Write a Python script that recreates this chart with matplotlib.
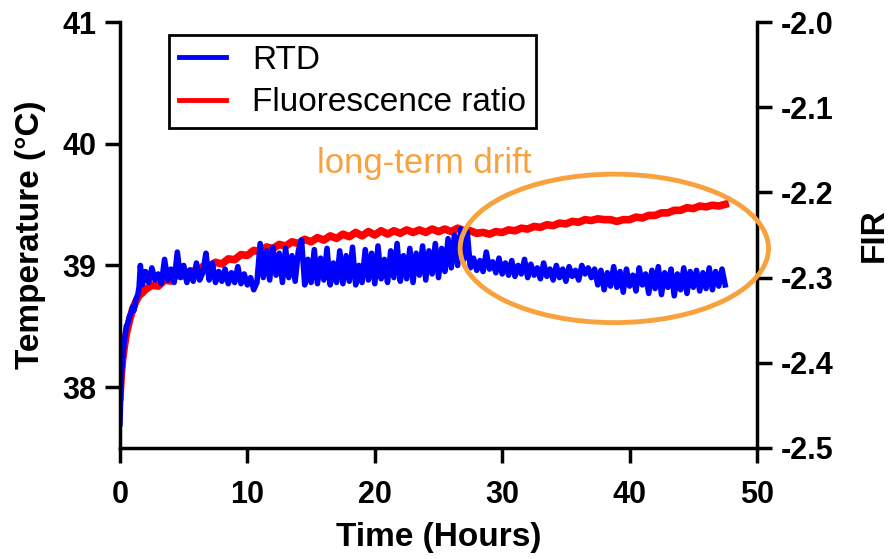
import matplotlib.pyplot as plt
from matplotlib.patches import Ellipse

plt.rcParams["font.family"] = ["Liberation Sans", "DejaVu Sans"]

# RTD temperature (deg C)
rtd_time = [
    0.0, 0.05, 0.1, 0.2, 0.3, 0.4, 0.5, 0.6, 0.75, 0.9,
    1.0, 1.1, 1.25, 1.4, 1.5, 1.6, 1.75,
    2.0, 2.25, 2.5, 2.75, 3.0, 3.25, 3.5, 3.75, 4.0, 4.25,
    4.5, 4.75, 5.0, 5.25, 5.5, 5.75, 6.0, 6.25, 6.5, 6.75,
    7.0, 7.25, 7.5, 7.75, 8.0, 8.25, 8.5, 8.75, 9.0, 9.25,
    9.5, 9.75, 10.0, 10.25, 10.5, 10.75, 11.0, 11.25, 11.5, 11.75,
    12.0, 12.25, 12.5, 12.75, 13.0, 13.25, 13.5, 13.75, 14.0, 14.25,
    14.5, 14.75, 15.0, 15.25, 15.5, 15.75, 16.0, 16.25, 16.5, 16.75,
    17.0, 17.25, 17.5, 17.75, 18.0, 18.25, 18.5, 18.75, 19.0, 19.25,
    19.5, 19.75, 20.0, 20.25, 20.5, 20.75, 21.0, 21.25, 21.5, 21.75,
    22.0, 22.25, 22.5, 22.75, 23.0, 23.25, 23.5, 23.75, 24.0, 24.25,
    24.5, 24.75, 25.0, 25.25, 25.5, 25.75, 26.0, 26.25, 26.5, 26.75,
    27.0, 27.25, 27.5, 27.75, 28.0, 28.25, 28.5, 28.75, 29.0, 29.25,
    29.5, 29.75, 30.0, 30.25, 30.5, 30.75, 31.0, 31.25, 31.5, 31.75,
    32.0, 32.25, 32.5, 32.75, 33.0, 33.25, 33.5, 33.75, 34.0, 34.25,
    34.5, 34.75, 35.0, 35.25, 35.5, 35.75, 36.0, 36.25, 36.5, 36.75,
    37.0, 37.25, 37.5, 37.75, 38.0, 38.25, 38.5, 38.75, 39.0, 39.25,
    39.5, 39.75, 40.0, 40.25, 40.5, 40.75, 41.0, 41.25, 41.5, 41.75,
    42.0, 42.25, 42.5, 42.75, 43.0, 43.25, 43.5, 43.75, 44.0, 44.25,
    44.5, 44.75, 45.0, 45.25, 45.5, 45.75, 46.0, 46.25, 46.5, 46.75,
    47.0, 47.25, 47.5,
]
rtd_temp = [
    37.70, 37.90, 38.08, 38.22, 38.35, 38.42, 38.50, 38.52, 38.58, 38.62,
    38.66, 38.63, 38.72, 38.76, 38.82, 39.00, 38.84,
    38.95, 38.86, 38.98, 38.88, 38.93, 38.85, 39.05, 38.88, 38.97, 38.86,
    39.11, 38.90, 39.00, 38.86, 38.96, 38.87, 39.02, 38.88, 38.94, 39.10,
    38.88, 39.02, 38.86, 38.95, 38.87, 38.97, 38.85, 38.94, 38.86, 38.99,
    38.85, 38.93, 38.84, 38.90, 38.80, 38.86, 39.18, 38.90, 39.12, 38.88,
    39.15, 38.92, 39.10, 38.86, 39.14, 38.90, 39.08, 38.87, 39.12, 39.21,
    38.84, 39.05, 38.86, 39.13, 38.85, 39.06, 38.88, 39.14, 38.84, 39.02,
    38.86, 39.12, 38.85, 39.08, 38.87, 39.15, 38.84, 39.00, 38.86, 39.13,
    38.88, 39.10, 38.85, 39.16, 38.89, 39.05, 38.86, 39.12, 38.90, 39.18,
    38.87, 39.08, 38.89, 39.14, 38.86, 39.10, 38.92, 39.16, 38.88, 39.12,
    38.93, 39.18, 38.90, 39.14, 38.95, 39.22, 38.98, 39.25, 39.00, 39.30,
    39.05, 39.28, 38.98, 39.06, 38.96, 39.04, 38.95, 39.11, 38.97, 39.03,
    38.94, 39.06, 38.93, 39.02, 38.92, 39.04, 38.91, 39.00, 38.93, 39.05,
    38.90, 39.01, 38.92, 38.98, 38.89, 39.02, 38.91, 38.97, 38.88, 39.00,
    38.90, 38.97, 38.87, 38.99, 38.91, 38.96, 38.88, 39.00, 38.93, 38.98,
    38.90, 38.97, 38.84, 38.96, 38.80, 38.94, 38.83, 38.99, 38.82, 38.95,
    38.78, 38.97, 38.83, 38.92, 38.79, 38.98, 38.84, 38.93, 38.77, 38.96,
    38.81, 38.99, 38.76, 38.94, 38.82, 38.97, 38.75, 38.93, 38.80, 38.98,
    38.77, 38.95, 38.82, 38.96, 38.79, 38.94, 38.81, 38.98, 38.80, 38.95,
    38.83, 38.97, 38.84,
]

# fluorescence intensity ratio (right axis)
fir_time = [
    0.0, 0.1, 0.2, 0.35, 0.5, 0.75, 1.0, 1.25, 1.5, 1.75,
    2.0, 2.5, 3.0, 3.5, 4.0, 4.5, 5.0, 5.5, 6.0, 6.5,
    7.0, 7.5, 8.0, 8.5, 9.0, 9.5, 10.0, 10.5, 11.0, 11.5,
    12.0, 12.5, 13.0, 13.5, 14.0, 14.5, 15.0, 15.5, 16.0, 16.5,
    17.0, 17.5, 18.0, 18.5, 19.0, 19.5, 20.0, 20.5, 21.0, 21.5,
    22.0, 22.5, 23.0, 23.5, 24.0, 24.5, 25.0, 25.5, 26.0, 26.5,
    27.0, 27.5, 28.0, 28.5, 29.0, 29.5, 30.0, 30.5, 31.0, 31.5,
    32.0, 32.5, 33.0, 33.5, 34.0, 34.5, 35.0, 35.5, 36.0, 36.5,
    37.0, 37.5, 38.0, 38.5, 39.0, 39.5, 40.0, 40.5, 41.0, 41.5,
    42.0, 42.5, 43.0, 43.5, 44.0, 44.5, 45.0, 45.5, 46.0, 46.5,
    47.0, 47.5,
]
fir_value = [
    -2.440, -2.415, -2.397, -2.380, -2.366, -2.350, -2.337, -2.328, -2.321, -2.318,
    -2.314, -2.309, -2.310, -2.303, -2.304, -2.297, -2.298, -2.292, -2.293, -2.287,
    -2.288, -2.282, -2.284, -2.278, -2.279, -2.273, -2.274, -2.268, -2.270, -2.264,
    -2.266, -2.261, -2.263, -2.258, -2.260, -2.255, -2.258, -2.253, -2.256, -2.251,
    -2.254, -2.249, -2.252, -2.247, -2.251, -2.246, -2.250, -2.245, -2.249, -2.245,
    -2.248, -2.244, -2.247, -2.244, -2.247, -2.243, -2.246, -2.243, -2.246, -2.242,
    -2.245, -2.245, -2.248, -2.247, -2.249, -2.246, -2.247, -2.244, -2.245, -2.242,
    -2.243, -2.240, -2.241, -2.238, -2.239, -2.236, -2.237, -2.234, -2.235, -2.232,
    -2.233, -2.231, -2.232, -2.232, -2.234, -2.232, -2.232, -2.229, -2.230, -2.227,
    -2.227, -2.224, -2.224, -2.221, -2.221, -2.218, -2.219, -2.216, -2.217, -2.215,
    -2.216, -2.214,
]

temp_ticks = [38, 39, 40, 41]
fir_ticks = [-2.5, -2.4, -2.3, -2.2, -2.1, -2.0]
time_ticks = [0, 10, 20, 30, 40, 50]

orange = "#F7A23E"
lw_axis = 2.5

fig = plt.figure(figsize=(8.88, 5.59), dpi=100)
ax = fig.add_axes([0.1351, 0.1986, 0.7174, 0.762])
ax2 = ax.twinx()

(red_line,) = ax2.plot(fir_time, fir_value, color="red", lw=5.5, label="Fluorescence ratio")
(blue_line,) = ax.plot(rtd_time, rtd_temp, color="blue", lw=4, label="RTD")

# blue on top of red
ax.set_zorder(ax2.get_zorder() + 1)
ax.patch.set_visible(False)

ax.set_xlim(0, 50)
ax.set_ylim(37.5, 41)
ax2.set_ylim(-2.5, -2.0)
ax.set_xticks(time_ticks)
ax.set_yticks(temp_ticks)
ax2.set_yticks(fir_ticks)
ax2.set_yticklabels([f"{v:.1f}" for v in fir_ticks])

for a in (ax, ax2):
    a.spines["top"].set_visible(False)
    for s in a.spines.values():
        s.set_linewidth(lw_axis)
ax.spines["right"].set_visible(False)
ax2.spines["left"].set_visible(False)
ax2.spines["bottom"].set_visible(False)

ax.tick_params(axis="y", length=11, width=lw_axis, labelsize=22, pad=6)
ax.tick_params(axis="x", length=11, width=lw_axis, labelsize=22, pad=12)
ax2.tick_params(axis="y", length=11, width=lw_axis, labelsize=22, pad=6)
for lab in ax.get_xticklabels() + ax.get_yticklabels() + ax2.get_yticklabels():
    lab.set_fontweight("bold")

ax.set_xlabel("Time (Hours)", fontsize=24, fontweight="bold", labelpad=9)
ax.set_ylabel("Temperature (°C)", fontsize=24, fontweight="bold", labelpad=12)
ax2.set_ylabel("FIR", fontsize=24, fontweight="bold", labelpad=18)

leg = ax.legend(
    [blue_line, red_line],
    ["RTD", "Fluorescence ratio"],
    loc="upper left",
    bbox_to_anchor=(0.077, 0.97),
    borderaxespad=0,
    fontsize=24,
    handlelength=1.4,
    handletextpad=0.8,
    labelspacing=0.35,
    borderpad=0.3,
    fancybox=False,
    edgecolor="black",
    framealpha=1,
)
leg.get_frame().set_linewidth(2)
for line in leg.get_lines():
    line.set_linewidth(3.5)

ell = Ellipse((38.8, 39.14), 24.2, 1.22, fill=False, edgecolor=orange, lw=3.5, clip_on=False, zorder=5)
ax.add_patch(ell)
ax.text(15.5, 39.84, "long-term drift", color=orange, fontsize=25, ha="left", va="center")

fig.savefig("out.png", dpi=100)
